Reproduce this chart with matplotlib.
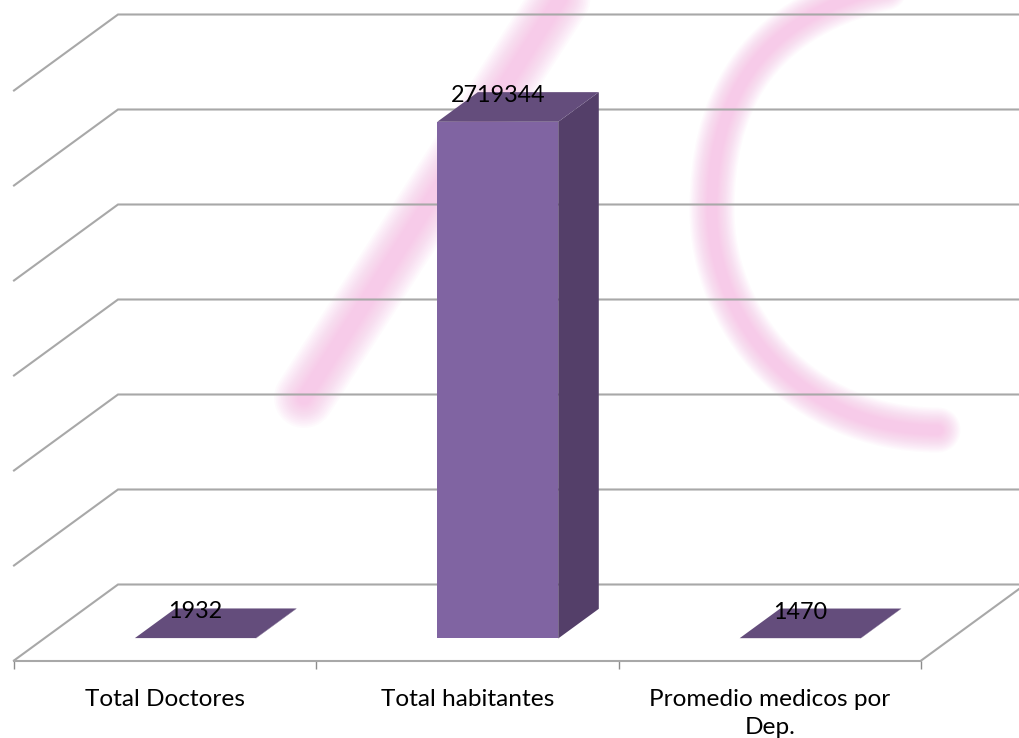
import matplotlib
matplotlib.use("Agg")
import matplotlib.pyplot as plt
from matplotlib.patches import Polygon, PathPatch
from matplotlib.path import Path
import numpy as np

categories = ["Total Doctores", "Total habitantes", "Promedio medicos por\nDep."]
values = [1932, 2719344, 1470]
value_ticks = [0, 500000, 1000000, 1500000, 2000000, 2500000, 3000000]

W, H = 1019, 738
X0_PX, CAT_PX = 14.0, 302.4     # pixel of first category edge, width of a category
Y0_PX, UNIT_PX = 660.5, 95 / 500000
DEPTH_DX, DEPTH_DY = 104.0, 76.0    # floor depth in pixels
BAR_D0, BAR_D1 = 0.29, 0.68
BAR_W = 0.40

GRID = "#a8a8a8"
FRONT, TOP, SIDE = "#8064a2", "#644d7c", "#543f69"
PINK = "#f7a6dd"

plt.rcParams["font.family"] = ["Lato", "DejaVu Sans"]
fig = plt.figure(figsize=(W / 100, H / 100), dpi=100, facecolor="white")

# pixel-space layer for the faint background watermark
bg = fig.add_axes([0, 0, 1, 1], zorder=0)
bg.set_xlim(0, W)
bg.set_ylim(H, 0)
bg.axis("off")
stroke_a = Path([(566, -10), (304, 398)], [Path.MOVETO, Path.LINETO])
stroke_c = Path([(885, -12), (750, 20), (712, 110), (712, 210),
                 (712, 320), (800, 430), (938, 430)],
                [Path.MOVETO, Path.CURVE4, Path.CURVE4, Path.CURVE4,
                 Path.CURVE4, Path.CURVE4, Path.CURVE4])
for path, w in [(stroke_a, 40), (stroke_c, 30)]:
    for f in np.linspace(1.5, 0.35, 14):
        bg.add_patch(PathPatch(path, fc="none", ec=PINK, lw=w * f * 0.72, alpha=0.05,
                               capstyle="round", joinstyle="round"))

# main chart axes, filling the figure, with value and category scales
ax = fig.add_axes([0, 0, 1, 1], zorder=1)
ax.patch.set_alpha(0)
ax.set_xlim((0 - X0_PX) / CAT_PX - 0.5, (W - X0_PX) / CAT_PX - 0.5)
ax.set_ylim((Y0_PX - H) / UNIT_PX, Y0_PX / UNIT_PX)


def proj(x, v, d):
    """Category/value/depth to data coordinates of the oblique view."""
    return x + d * DEPTH_DX / CAT_PX, v + d * DEPTH_DY / UNIT_PX


# walls: grid lines
for v in value_ticks:
    p0 = proj(-0.5, v, 0)
    p1 = proj(-0.5, v, 1)
    p2 = proj(2.5, v, 1)
    ax.plot([p0[0], p1[0], p2[0]], [p0[1], p1[1], p2[1]], color=GRID, lw=1.5,
            solid_joinstyle="miter", zorder=2)
q0, q1 = proj(2.5, 0, 0), proj(2.5, 0, 1)
ax.plot([q0[0], q1[0]], [q0[1], q1[1]], color=GRID, lw=1.5, zorder=2)

# bars
for i, v in enumerate(values):
    xl, xr = i - BAR_W / 2, i + BAR_W / 2
    front = [proj(xl, 0, BAR_D0), proj(xr, 0, BAR_D0), proj(xr, v, BAR_D0), proj(xl, v, BAR_D0)]
    side = [proj(xr, 0, BAR_D0), proj(xr, 0, BAR_D1), proj(xr, v, BAR_D1), proj(xr, v, BAR_D0)]
    top = [proj(xl, v, BAR_D0), proj(xr, v, BAR_D0), proj(xr, v, BAR_D1), proj(xl, v, BAR_D1)]
    ax.add_patch(Polygon(side, closed=True, fc=SIDE, ec="none", zorder=3))
    ax.add_patch(Polygon(top, closed=True, fc=TOP, ec="none", zorder=3))
    ax.add_patch(Polygon(front, closed=True, fc=FRONT, ec="none", zorder=4))
    cx, cy = proj(i, v, BAR_D0)
    ax.annotate(str(v), (cx, cy), xytext=(0, 18.8), textcoords="offset points",
                ha="center", va="center", fontsize=16.8, color="black", zorder=5)

# category axis
for s in ["top", "left", "right"]:
    ax.spines[s].set_visible(False)
ax.spines["bottom"].set_position(("data", 0))
ax.spines["bottom"].set_bounds(-0.5, 2.5)
ax.spines["bottom"].set_color(GRID)
ax.spines["bottom"].set_linewidth(1.5)
ax.spines["bottom"].set_zorder(2)
ax.set_yticks([])
ax.set_xticks(range(len(categories)))
ax.set_xticklabels(categories, fontsize=17.6, color="black", linespacing=1.42)
ax.set_xticks([-0.5, 0.5, 1.5, 2.5], minor=True)
ax.tick_params(axis="x", which="major", length=0, pad=20.5)
ax.tick_params(axis="x", which="minor", length=6, width=1.0, color="#8c8c8c")

fig.savefig("out.png", dpi=100, facecolor="white")
